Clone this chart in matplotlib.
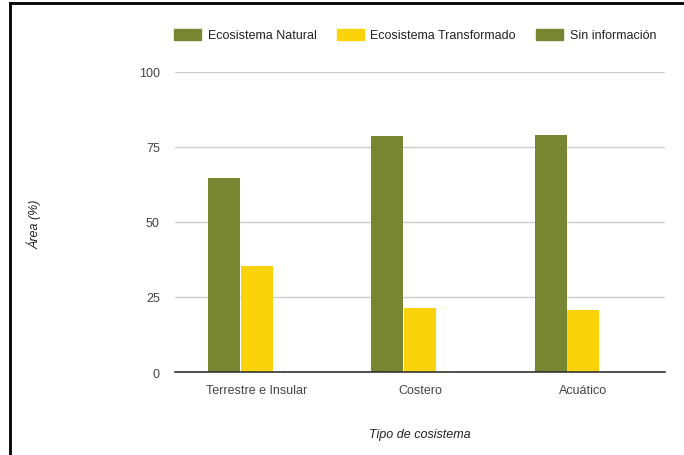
import matplotlib.pyplot as plt
from matplotlib.lines import Line2D
from matplotlib.patches import Patch
import numpy as np

plt.rcParams['font.family'] = ['Liberation Sans', 'DejaVu Sans']

# Data
categorias = ["Terrestre e Insular", "Costero", "Acuático"]
natural = [64.7, 78.7, 79.0]
transformado = [35.3, 21.3, 20.7]
sin_info = [0, 0, 0]
series = ["Ecosistema Natural", "Ecosistema Transformado", "Sin información"]
colores = ["#788632", "#FBD30B", "#788632"]
yticks = [0, 25, 50, 75, 100]

fig = plt.figure(figsize=(6.84, 4.56), dpi=100)
ax = fig.add_axes([175 / 684, 1 - 373 / 456, 490 / 684, 300 / 456])

x = np.arange(len(categorias))
w = 0.2
for i, (vals, name, c) in enumerate(zip([natural, transformado, sin_info], series, colores)):
    ax.bar(x + (i - 1) * w, vals, width=w * 0.97, color=c, label=name, zorder=3)

ax.set_xlim(-0.5, 2.5)
ax.set_ylim(0, 100)
ax.set_yticks(yticks)
ax.set_xticks(x)
ax.set_xticklabels(categorias)
ax.tick_params(axis='both', length=0, labelsize=9, colors="#444444")
ax.tick_params(axis='y', pad=11)
ax.tick_params(axis='x', pad=9)
ax.grid(axis='y', color="#cccccc", linewidth=1, zorder=0)
for s in ["top", "right", "left"]:
    ax.spines[s].set_visible(False)
ax.spines["bottom"].set_color("#333333")
ax.spines["bottom"].set_linewidth(1.2)
ax.spines["bottom"].set_zorder(4)

ax.set_xlabel("Tipo de cosistema", fontsize=9, style="italic", color="#222222", labelpad=23)
fig.text(34 / 684, 1 - 224 / 456, "Área (%)", rotation=90, fontsize=9, style="italic",
         color="#222222", ha="center", va="center")

handles = [Patch(color=c) for c in colores]
fig.legend(handles, series, loc="center", bbox_to_anchor=(415 / 684, 1 - 36 / 456), ncol=3,
           frameon=False, fontsize=9, handlelength=2.2, handleheight=1.0,
           columnspacing=1.6, handletextpad=0.5, labelcolor="#222222")

# black frame around the picture
fig.add_artist(Line2D([9.5 / 684, 9.5 / 684], [0, 1 - 3.5 / 456], color="black", linewidth=2,
                      transform=fig.transFigure))
fig.add_artist(Line2D([9.5 / 684, 1], [1 - 3.5 / 456, 1 - 3.5 / 456], color="black", linewidth=2,
                      transform=fig.transFigure))

plt.savefig("out.png", dpi=100)
